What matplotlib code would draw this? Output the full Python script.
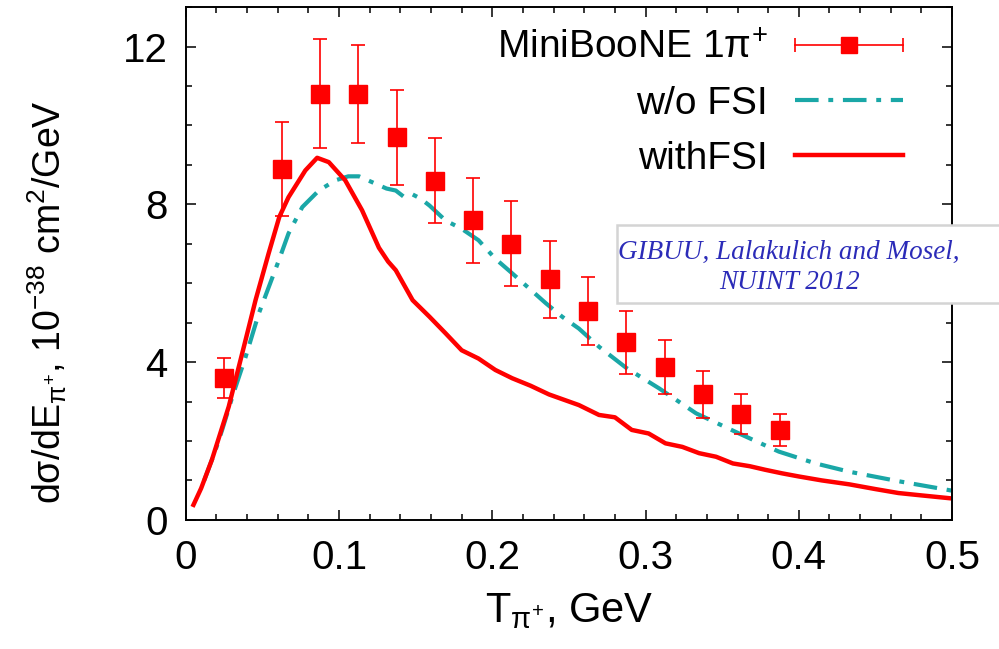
import matplotlib
matplotlib.use("Agg")
import matplotlib.pyplot as plt
from matplotlib.legend_handler import HandlerBase
from matplotlib.lines import Line2D
from matplotlib.patches import Rectangle
from matplotlib.ticker import MultipleLocator

# MiniBooNE 1pi+ data points
x_data = [0.025, 0.0625, 0.0875, 0.1125, 0.1375, 0.1625, 0.1875, 0.2125,
          0.2375, 0.2625, 0.2875, 0.3125, 0.3375, 0.3625, 0.3875]
y_data = [3.6, 8.9, 10.8, 10.8, 9.7, 8.6, 7.6, 7.0, 6.1, 5.3, 4.5, 3.87,
          3.18, 2.68, 2.28]
y_err = [0.5, 1.2, 1.38, 1.24, 1.2, 1.08, 1.08, 1.08, 0.98, 0.87, 0.8, 0.69,
         0.59, 0.5, 0.4]

# GiBUU without FSI
x_nofsi = [0.012, 0.0194, 0.0237, 0.031, 0.039, 0.0476, 0.0607, 0.067, 0.076,
           0.0868, 0.0977, 0.106, 0.113, 0.124, 0.131, 0.137, 0.142, 0.148,
           0.153, 0.159, 0.1695, 0.180, 0.191, 0.202, 0.213, 0.224, 0.235,
           0.2456, 0.2565, 0.2696, 0.2875, 0.309, 0.333, 0.361, 0.387, 0.411,
           0.433, 0.465, 0.50]
y_nofsi = [1.0, 1.77, 2.28, 3.2, 4.13, 5.23, 6.58, 7.26, 7.93, 8.35, 8.61,
           8.71, 8.71, 8.52, 8.40, 8.35, 8.20, 8.25, 8.15, 7.97, 7.59, 7.38,
           7.09, 6.62, 6.25, 5.87, 5.49, 5.15, 4.85, 4.39, 3.85, 3.33, 2.70,
           2.19, 1.73, 1.43, 1.22, 0.98, 0.74]

# GiBUU with FSI
x_fsi = [0.005, 0.010, 0.017, 0.028, 0.039, 0.0455, 0.054, 0.061, 0.067,
         0.078, 0.0857, 0.0933, 0.104, 0.115, 0.126, 0.132, 0.137, 0.148,
         0.159, 0.1695, 0.180, 0.191, 0.202, 0.213, 0.225, 0.237, 0.2565,
         0.2696, 0.280, 0.291, 0.302, 0.313, 0.324, 0.335, 0.346, 0.357,
         0.368, 0.378, 0.389, 0.400, 0.415, 0.433, 0.450, 0.465, 0.480, 0.498]
y_fsi = [0.38, 0.80, 1.52, 2.87, 4.56, 5.57, 6.75, 7.68, 8.18, 8.86, 9.18,
         9.07, 8.61, 7.85, 6.90, 6.55, 6.33, 5.57, 5.15, 4.73, 4.30, 4.09,
         3.80, 3.59, 3.40, 3.18, 2.91, 2.66, 2.60, 2.28, 2.19, 1.94, 1.85,
         1.69, 1.60, 1.43, 1.36, 1.27, 1.18, 1.10, 1.00, 0.90, 0.78, 0.68,
         0.62, 0.55]

RED = "#ff0000"
TEAL = "#1aa7a7"

plt.rcParams["font.family"] = ["Liberation Sans", "DejaVu Sans"]
plt.rcParams["mathtext.fontset"] = "custom"
plt.rcParams["mathtext.rm"] = "Liberation Sans"
plt.rcParams["mathtext.it"] = "Liberation Sans:italic"
plt.rcParams["mathtext.bf"] = "Liberation Sans:bold"
plt.rcParams["lines.scale_dashes"] = False


class ErrbarHandler(HandlerBase):
    """gnuplot-style key: horizontal bar with end caps and a square."""

    def create_artists(self, legend, orig_handle, xdescent, ydescent,
                       width, height, fontsize, trans):
        x0, x1 = -xdescent, width - xdescent
        yc = height / 2 - ydescent
        bar = Line2D([x0, x1], [yc, yc], color=RED, lw=1.2)
        caps = Line2D([x0, x1], [yc, yc], color=RED, ls="none",
                      marker="|", markersize=10, markeredgewidth=1.2)
        sq = Line2D([(x0 + x1) / 2], [yc], color=RED, ls="none",
                    marker="s", markersize=12)
        for a in (bar, caps, sq):
            a.set_transform(trans)
        return [bar, caps, sq]


fig = plt.figure(figsize=(9.99, 6.49), dpi=100)
ax = fig.add_axes([0.186, 0.199, 0.767, 0.790])

line_nofsi, = ax.plot(x_nofsi, y_nofsi, color=TEAL, lw=3.0,
                      dashes=(17, 7, 3.5, 7), solid_capstyle="butt")
line_fsi, = ax.plot(x_fsi, y_fsi, color=RED, lw=3.2)
eb = ax.errorbar(x_data, y_data, yerr=y_err, fmt="s", color=RED,
                 markersize=12.5, elinewidth=1.2, capsize=4.7, capthick=1.2,
                 zorder=4)

ax.set_xlim(0, 0.5)
ax.set_ylim(0, 13)
ax.xaxis.set_minor_locator(MultipleLocator(0.02))
ax.yaxis.set_major_locator(MultipleLocator(4))
ax.yaxis.set_minor_locator(MultipleLocator(1))
ax.set_xticks([0, 0.1, 0.2, 0.3, 0.4, 0.5])
ax.set_xticklabels(["0", "0.1", "0.2", "0.3", "0.4", "0.5"])
ax.tick_params(which="both", direction="in", top=True, right=True,
               width=1.1, labelsize=29)
ax.tick_params(which="major", length=7)
ax.tick_params(which="minor", length=4)
ax.tick_params(axis="x", pad=14)
ax.tick_params(axis="y", pad=13)
for sp in ax.spines.values():
    sp.set_linewidth(1.4)

ax.set_xlabel(r"T$_{\mathrm{\pi}^{+}}$, GeV", fontsize=30, labelpad=10)
ax.set_ylabel(r"dσ/dE$_{\mathrm{\pi}^{+}}$, 10$^{-38}$ cm$^{2}$/GeV",
              fontsize=27)
ax.yaxis.set_label_coords(-0.152, 0.425)

ax.legend([eb, line_nofsi, line_fsi],
          [r"MiniBooNE 1$\mathrm{\pi}^{+}$", "w/o FSI", "withFSI"],
          handler_map={eb: ErrbarHandler()},
          loc="upper right", bbox_to_anchor=(0.962, 0.993),
          frameon=False, markerfirst=False, fontsize=28,
          handlelength=2.8, handletextpad=0.7, labelspacing=0.5,
          borderaxespad=0, borderpad=0.5)

# annotation box, partly outside the axes
fig.patches.append(Rectangle((0.6176, 0.533), 0.40, 0.120,
                             transform=fig.transFigure, facecolor="white",
                             edgecolor="#d4d4d4", lw=1.8, zorder=5))
fig.text(0.79, 0.588, "GIBUU, Lalakulich and Mosel,\nNUINT 2012",
         ha="center", va="center", family="Liberation Serif", style="italic",
         color="#2b2bb8", fontsize=19.5, linespacing=1.25, zorder=6)

fig.savefig("out.png", dpi=100)
